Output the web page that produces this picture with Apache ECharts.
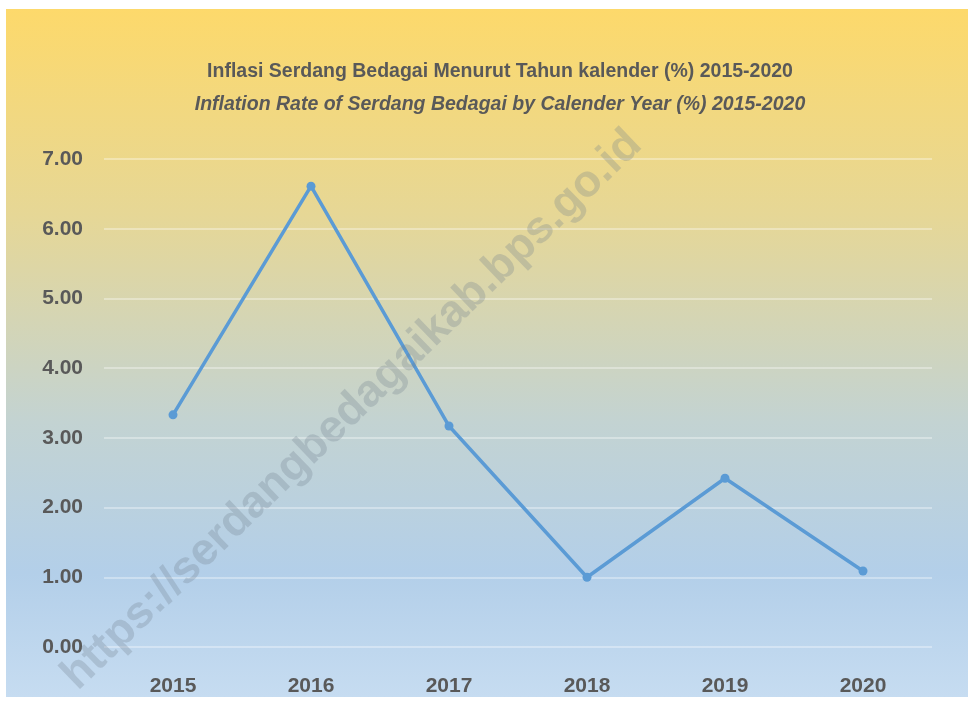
<!DOCTYPE html>
<html>
<head>
<meta charset="utf-8">
<style>
  html, body { margin: 0; padding: 0; background: #fff; }
  #main { width: 968px; height: 706px; }
</style>
<script src="https://cdn.jsdelivr.net/npm/echarts@6/dist/echarts.min.js"></script>
</head>
<body>
<div id="main"></div>
<script>
const years = ['2015', '2016', '2017', '2018', '2019', '2020']
const inflation = [3.33, 6.61, 3.17, 1.00, 2.42, 1.09]
const titleLines = [
  'Inflasi Serdang Bedagai Menurut Tahun kalender (%) 2015-2020',
  'Inflation Rate of Serdang Bedagai by Calender Year (%) 2015-2020'
]
const watermark = 'https://serdangbedagaikab.bps.go.id'

const font = '"Liberation Sans", Arial, sans-serif'
const textColor = '#595959'

const chart = echarts.init(document.getElementById('main'))

chart.setOption({
  backgroundColor: '#fff',
  textStyle: { fontFamily: font },
  title: [{
    text: titleLines[0],
    left: 495,
    top: 57,
    textAlign: 'center',
    textStyle: { fontSize: 19.5, fontWeight: 'bold', color: textColor, fontFamily: font }
  }, {
    text: titleLines[1],
    left: 495,
    top: 90,
    textAlign: 'center',
    textStyle: { fontSize: 19.5, fontWeight: 'bold', fontStyle: 'italic', color: textColor, fontFamily: font }
  }],
  graphic: [{
    type: 'rect',
    z: -10,
    silent: true,
    shape: { x: 6, y: 9, width: 962, height: 688 },
    style: {
      fill: new echarts.graphic.LinearGradient(0, 0, 0, 1, [
        { offset: 0, color: '#fdd96b' },
        { offset: 0.3, color: '#e6d796' },
        { offset: 0.6, color: '#c3d3d2' },
        { offset: 0.82, color: '#b3cfe9' },
        { offset: 1, color: '#c6dcf1' }
      ])
    }
  }, {
    type: 'text',
    z: 100,
    silent: true,
    x: 352,
    y: 410,
    rotation: Math.PI / 4.1,
    style: {
      text: watermark,
      fontSize: 45,
      fontWeight: 'bold',
      fontFamily: font,
      fill: 'rgba(110, 125, 140, 0.28)',
      align: 'center',
      verticalAlign: 'middle'
    }
  }],
  grid: {
    left: 104,
    right: 36,
    top: 159,
    bottom: 59,
    containLabel: false
  },
  xAxis: {
    type: 'category',
    data: years,
    boundaryGap: true,
    axisLine: { show: false },
    axisTick: { show: false },
    axisLabel: {
      margin: 29,
      fontSize: 21,
      fontWeight: 'bold',
      color: textColor,
      fontFamily: font
    }
  },
  yAxis: {
    type: 'value',
    min: 0,
    max: 7,
    interval: 1,
    axisLine: { show: false },
    axisTick: { show: false },
    axisLabel: {
      margin: 21,
      fontSize: 21,
      fontWeight: 'bold',
      color: textColor,
      fontFamily: font,
      formatter: v => v.toFixed(2)
    },
    splitLine: {
      lineStyle: { color: 'rgba(255,255,255,0.45)', width: 1.5 }
    }
  },
  series: [{
    type: 'line',
    data: inflation,
    symbol: 'circle',
    symbolSize: 9,
    lineStyle: { color: '#5b9bd5', width: 3.5 },
    itemStyle: { color: '#5b9bd5' },
    animation: false
  }]
})
</script>
</body>
</html>
